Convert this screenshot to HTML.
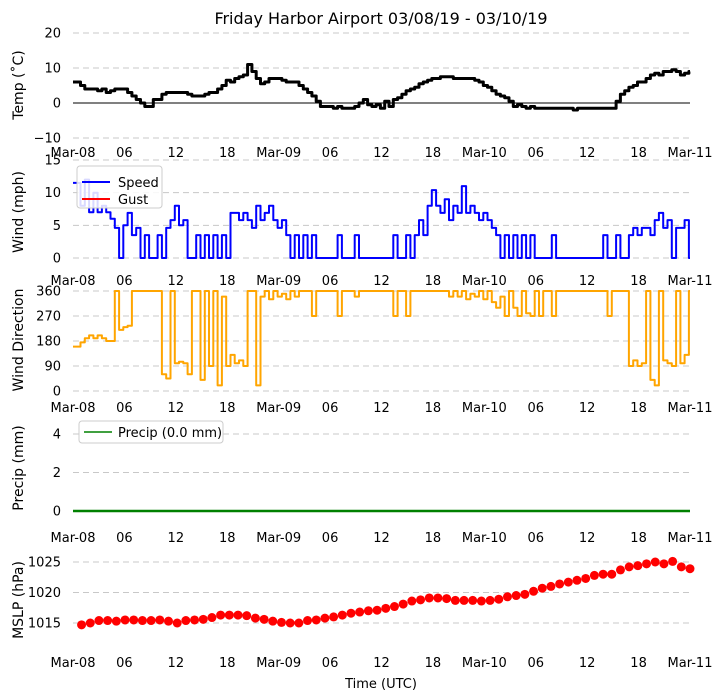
<!DOCTYPE html>
<html><head><meta charset="utf-8">
<style>
html,body{margin:0;padding:0;background:#fff;}
svg{display:block;font-family:"DejaVu Sans","Liberation Sans",sans-serif;}
</style></head>
<body>
<svg id="chart" width="722" height="700" viewBox="0 0 722 700" xmlns="http://www.w3.org/2000/svg">
<text x="381" y="24" font-size="16" text-anchor="middle">Friday Harbor Airport 03/08/19 - 03/10/19</text>
<text x="381" y="688" font-size="13" text-anchor="middle">Time (UTC)</text>
</svg>
<script>
const xTickLabels = ["Mar-08","06","12","18","Mar-09","06","12","18","Mar-10","06","12","18","Mar-11"];
const tempValues = [6,6,5,4,4,4,3.5,4,3,3.5, 4,4,4,3,2,1,0,-1,-1,1, 1,2.5,3,3,3,3,3,2.5,2,2, 2,2.5,3,3,4,5,6.5,6,7,7.5, 8,11,9,7,5.5,6,7,7,7,6.5, 6,6,6,5,4,3,2,0.5,-1,-1, -1,-1.5,-1,-1.5,-1.5,-1.5,-1,0,1,-0.5, -1,-0.5,-1.5,0.5,-1,1,1.5,2.5,3.5,4, 4.5,5.5,6,6.5,7,7,7.5,7.5,7.5,7, 7,7,7,7,6.5,6,5,4.5,3.5,2.5, 2,1.5,0.5,-1,-0.5,-1,-1.5,-1,-1.5,-1.5, -1.5,-1.5,-1.5,-1.5,-1.5,-1.5,-1.5,-2,-1.5,-1.5, -1.5,-1.5,-1.5,-1.5,-1.5,-1.5,-1.5,0.5,2.5,3.5, 4.5,5,6,6,7,8,8.5,8,9,9, 9.5,9,8,8.5,9];
const speedValues = [11.5,11.5,8,12,7,10,7,8,7,6, 4.6,0,5,6.9,3.5,4.6,0,3.5,0,0, 3.5,0,4.6,5.8,8,5,5.8,0,0,3.5, 0,3.5,0,3.5,0,3.5,0,6.9,6.9,5.8, 6.9,5.8,4.6,8,5.8,6.9,8,5.8,4.6,5.8, 3.5,0,3.5,0,3.5,0,3.5,0,0,0, 0,0,3.5,0,0,0,3.5,0,0,0, 0,0,0,0,0,3.5,0,0,3.5,0, 3.5,5.8,3.5,8,10.4,8,6.9,9,5.8,8, 6.9,11,6.9,8,6.9,5.8,6.9,5.8,4.6,3.5, 0,3.5,0,3.5,0,3.5,0,3.5,0,0, 0,0,3.5,0,0,0,0,0,0,0, 0,0,0,0,3.5,0,0,3.5,0,0, 3.5,4.6,3.5,4.6,4.6,3.5,5.8,6.9,4.6,5.8, 0,4.6,4.6,5.8,0];
const dirValues = [160,160,175,190,200,190,200,190,180,180, 360,220,230,235,360,360,360,360,360,360, 360,60,45,360,100,105,100,60,360,360, 40,360,90,360,20,340,90,130,100,110, 90,360,360,20,340,360,330,360,340,350, 330,360,340,360,360,360,270,360,360,360, 360,360,270,360,360,360,340,360,360,360, 360,360,360,360,360,270,360,360,270,360, 360,360,360,360,360,360,360,360,340,360, 340,360,330,350,340,360,330,360,320,300, 340,270,360,300,270,360,280,270,360,270, 360,360,270,360,360,360,360,360,360,360, 360,360,360,360,360,270,360,360,360,360, 90,110,90,100,360,40,20,360,110,100, 90,360,100,130,360];
const mslpValues = [1014.7,1015,1015.4,1015.4,1015.3,1015.5,1015.5,1015.4,1015.4,1015.5, 1015.3,1015,1015.4,1015.5,1015.6,1015.9,1016.3,1016.3,1016.3,1016.2, 1015.8,1015.6,1015.3,1015.1,1015,1015,1015.4,1015.5,1015.8,1016, 1016.3,1016.6,1016.8,1017,1017.1,1017.4,1017.7,1018.1,1018.6,1018.8, 1019.1,1019.1,1019,1018.7,1018.7,1018.7,1018.6,1018.7,1018.9,1019.3, 1019.5,1019.7,1020.2,1020.7,1021,1021.4,1021.7,1022,1022.3,1022.8, 1023,1023,1023.7,1024.2,1024.4,1024.7,1025,1024.7,1025.1,1024.2, 1023.9];
const precipValues = [0,0,0,0,0,0,0,0,0,0,0,0,0,0,0,0,0,0,0,0,0,0,0,0,0,0,0,0,0,0,0,0,0,0,0,0,0,0,0,0,0,0,0,0,0,0,0,0,0,0,0,0,0,0,0,0,0,0,0,0,0,0,0,0,0,0,0,0,0,0,0,0,0];

const svg = document.getElementById('chart');
const NS = 'http://www.w3.org/2000/svg';
const X0 = 73, X1 = 690, HMAX = 72;
function xs(h){ return X0 + (X1 - X0) * h / HMAX; }
function mk(tag, attrs, parent){
  const e = document.createElementNS(NS, tag);
  for (const k in attrs) e.setAttribute(k, attrs[k]);
  (parent || svg).appendChild(e);
  return e;
}
function yscale(v0, p0, v1, p1){ return v => p0 + (v - v0) * (p1 - p0) / (v1 - v0); }

function panel(name, ys, ticks, tickFmt, xLabelY, ylabel, ylabelY){
  const g = mk('g', {});
  
  
  ticks.forEach(t => {
    const y = ys(t);
    const gl = mk('line', {x1:X0, x2:X1, y1:y, y2:y, stroke:'#c8c8c8', 'stroke-width':1, 'stroke-dasharray':'6,4'}, g);
    
    
    const tl = mk('text', {x:X0 - 12, y:y + 4.5, 'font-size':13, 'text-anchor':'end'}, g);
    tl.textContent = tickFmt(t);
    
    
  });
  xTickLabels.forEach((lab, i) => {
    const t = mk('text', {x:xs(i * 6), y:xLabelY, 'font-size':13, 'text-anchor':'middle'}, g);
    t.textContent = lab;
    
    
  });
  const yl = mk('text', {x:0, y:0, 'font-size':14, 'text-anchor':'middle', transform:'translate(23,' + ylabelY + ') rotate(-90)'}, g);
  yl.textContent = ylabel;
  
  
  return g;
}
function series(g, vals, step, offset, ys, color, width, name, stepped){
  let d = '';
  vals.forEach((v, i) => {
    const x = xs(offset + i * step).toFixed(1), y = ys(v).toFixed(1);
    if (i === 0) d += 'M' + x + ',' + y;
    else if (stepped) {
      const xm = xs(offset + (i - 0.25) * step).toFixed(1);
      d += ' L' + xm + ',' + ys(vals[i-1]).toFixed(1) + ' L' + xm + ',' + y + ' L' + x + ',' + y;
    } else d += ' L' + x + ',' + y;
  });
  const p = mk('path', {d:d, fill:'none', stroke:color, 'stroke-width':width, 'stroke-linejoin':'round'}, g);
  
  
  return p;
}

// Temperature
const yT = yscale(20, 33, -10, 138);
const gT = panel('temp', yT, [20,10,-10], t => t === -10 ? '\u221210' : String(t), 157, 'Temp (\u02daC)', 85);
const t0 = mk('text', {x:X0 - 12, y:yT(0) + 4.5, 'font-size':13, 'text-anchor':'end'}, gT);
t0.textContent = '0';


const zl = mk('line', {x1:X0, x2:X1, y1:yT(0), y2:yT(0), stroke:'#000', 'stroke-width':1}, gT);


series(gT, tempValues, 0.5, 0, yT, '#000', 3, 'temp-line', true);

// Wind speed
const yW = yscale(15, 160, 0, 258);
const gW = panel('wind', yW, [15,10,5,0], String, 285, 'Wind (mph)', 212);
series(gW, speedValues, 0.5, 0, yW, '#0000ff', 2, 'speed-line', true);
const lg = mk('g', {}, gW);


mk('rect', {x:77, y:166, width:85, height:42, rx:3, fill:'#fff', 'fill-opacity':0.85, stroke:'#ccc'}, lg);
mk('line', {x1:82, x2:110, y1:182, y2:182, stroke:'#0000ff', 'stroke-width':2}, lg);
mk('line', {x1:82, x2:110, y1:199, y2:199, stroke:'#ff0000', 'stroke-width':2}, lg);
const ls = mk('text', {x:118, y:187, 'font-size':13}, lg); ls.textContent = 'Speed';


const lgu = mk('text', {x:118, y:204, 'font-size':13}, lg); lgu.textContent = 'Gust';



// Wind direction
const yD = yscale(360, 291, 0, 391);
const gD = panel('direction', yD, [360,270,180,90,0], String, 412, 'Wind Direction', 340);
series(gD, dirValues, 0.5, 0, yD, '#ffa500', 2, 'direction-line', true);

// Precip
const yP = yscale(4, 434, 0, 511);
const gP = panel('precip', yP, [4,2,0], String, 542, 'Precip (mm)', 468);
series(gP, precipValues, 1, 0, yP, '#008000', 2.5, 'precip-line', false);
const lp = mk('g', {}, gP);


mk('rect', {x:79, y:421, width:144, height:22, rx:3, fill:'#fff', stroke:'#ccc'}, lp);
mk('line', {x1:84, x2:112, y1:432, y2:432, stroke:'#008000', 'stroke-width':1.5}, lp);
const lpt = mk('text', {x:118, y:437, 'font-size':13}, lp); lpt.textContent = 'Precip (0.0 mm)';



// MSLP
const yM = yscale(1025, 562, 1015, 623);
const gM = panel('mslp', yM, [1025,1020,1015], String, 667, 'MSLP (hPa)', 600);
const mstep = (HMAX - 1) / (mslpValues.length - 1);
mslpValues.forEach((v, i) => {
  const c = mk('circle', {cx:xs(1 + i * mstep), cy:yM(v), r:4.5, fill:'#ff0000'}, gM);
  
  
});
</script>
</body></html>
